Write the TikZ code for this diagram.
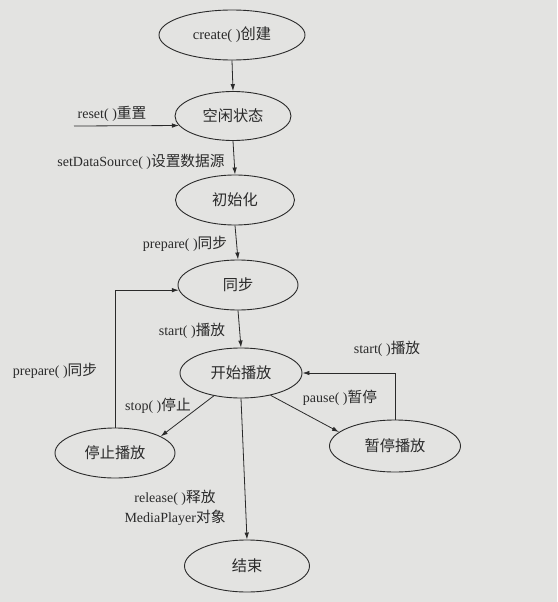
\documentclass[tikz,border=0pt]{standalone}
\usepackage{fontspec}
\setmainfont{Liberation Serif}
\newfontfamily\cjk[Scale=1.05]{Noto Sans CJK SC}
\newcommand\zh[1]{{\cjk #1}}
\usetikzlibrary{shapes.geometric,arrows.meta}
\definecolor{bg}{HTML}{E3E3E1}
\definecolor{ink}{HTML}{2A2A2A}
\tikzset{
  state/.style={ellipse, draw=ink, line width=0.9pt, inner sep=0pt, text=ink,
    font=\fontsize{14.5}{16}\selectfont},
  arr/.style={-{Latex[length=7pt,width=4.5pt]}, line width=0.8pt, draw=ink},
  lbl/.style={text=ink, font=\fontsize{14}{20}\selectfont, inner sep=0pt, align=center},
}
\begin{document}
\begin{tikzpicture}[x=1pt,y=-1pt]
\fill[bg] (0,0) rectangle (557,602);
\useasboundingbox (0,0) rectangle (557,602);

\node[state, minimum width=146pt, minimum height=50pt] (create) at (232,35) {create( )\zh{创建}};
\node[state, minimum width=116pt, minimum height=49pt] (idle) at (233,116) {\zh{空闲状态}};
\node[state, minimum width=119pt, minimum height=50pt] (init) at (235,200) {\zh{初始化}};
\node[state, minimum width=120pt, minimum height=50pt] (sync) at (238,285) {\zh{同步}};
\node[state, minimum width=122pt, minimum height=50pt] (play) at (241,373) {\zh{开始播放}};
\node[state, minimum width=120pt, minimum height=50pt] (stopst) at (115,453) {\zh{停止播放}};
\node[state, minimum width=131pt, minimum height=52pt] (pausest) at (395,446) {\zh{暂停播放}};
\node[state, minimum width=125pt, minimum height=52pt] (endst) at (247,566) {\zh{结束}};

\coordinate (rs) at (74,126);

\draw[arr] (create.south) -- (idle.north);
\draw[arr] (rs) -- (idle.190);
\draw[arr] (idle.south) -- (init.north);
\draw[arr] (init.south) -- (sync.north);
\draw[arr] (sync.south) -- (play.north);
\draw[arr] (stopst.north) |- (sync.185);
\draw[arr] (play.220) -- (stopst.20);
\draw[arr] (play.323) -- (pausest.166);
\draw[arr] (pausest.north) |- (play.east);
\draw[arr] (play.south) -- (endst.north);

\node[lbl] (lreset) at (112,114) {reset( )\zh{重置}};
\node[lbl] (lsds) at (141,162) {setDataSource( )\zh{设置数据源}};
\node[lbl] (lprep1) at (185,244) {prepare( )\zh{同步}};
\node[lbl] (lstart1) at (192,331) {start( )\zh{播放}};
\node[lbl] (lprep2) at (55,371) {prepare( )\zh{同步}};
\node[lbl] (lstop) at (158,406) {stop( )\zh{停止}};
\node[lbl] (lpause) at (340,398) {pause( )\zh{暂停}};
\node[lbl] (lstart2) at (387,349) {start( )\zh{播放}};
\node[lbl] (lrel) at (175,508) {release( )\zh{释放}\\MediaPlayer\zh{对象}};
\end{tikzpicture}
\end{document}
